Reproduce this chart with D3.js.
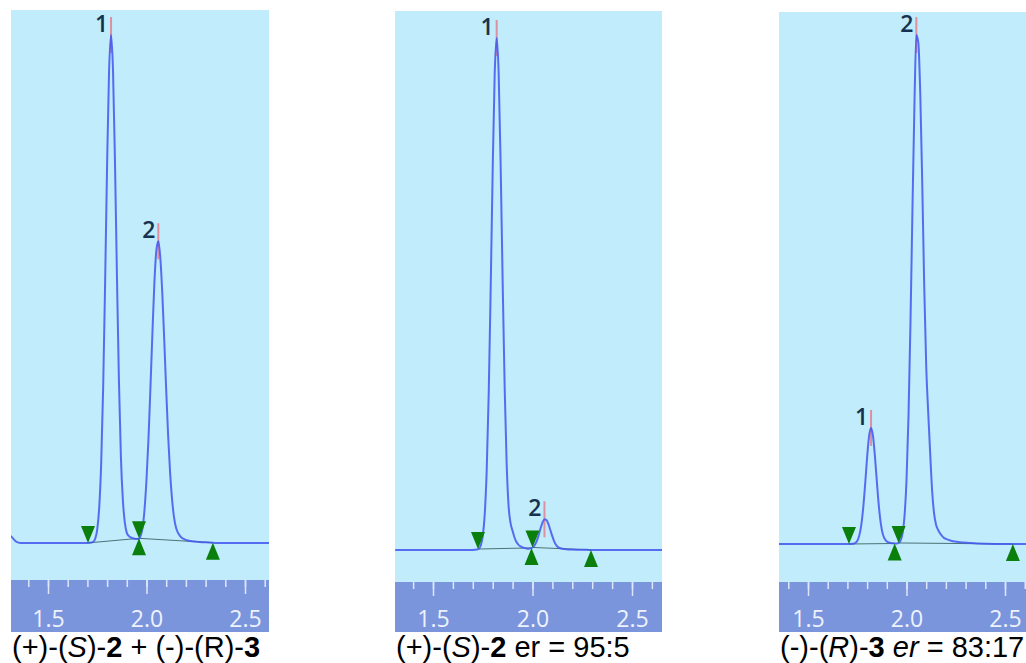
<!DOCTYPE html>
<html>
<head>
<meta charset="utf-8">
<script src="https://cdn.jsdelivr.net/npm/d3@7"></script>
<style>
  html, body { margin: 0; padding: 0; background: #ffffff; }
  svg { display: block; }
</style>
</head>
<body>
<div id="chart"></div>
<script>
// Retention time grid (min), shared by the three traces
const time = [1.31, 1.32, 1.34, 1.36, 1.40, 1.50, 1.60, 1.66,
  1.70, 1.71, 1.72, 1.73, 1.74, 1.75, 1.76, 1.77, 1.78, 1.79,
  1.80, 1.81, 1.82, 1.83, 1.84, 1.85, 1.86, 1.87, 1.88, 1.89,
  1.90, 1.91, 1.92, 1.93, 1.94, 1.95, 1.96, 1.97, 1.98, 1.99,
  2.00, 2.01, 2.02, 2.03, 2.04, 2.05, 2.06, 2.07, 2.08, 2.09,
  2.10, 2.11, 2.12, 2.13, 2.14, 2.15, 2.16, 2.17, 2.18, 2.19,
  2.20, 2.23, 2.27, 2.32, 2.36, 2.40, 2.50, 2.60, 2.66];

// Detector signal, % of the tallest peak in each run
const signalMix = [1.4, 1.0, 0.2, 0, 0, 0, 0, 0,
  0, 0.05, 0.1, 0.25, 0.9, 2.7, 7.0, 15.7, 30.6, 51.4,
  74.4, 92.9, 100, 93, 75, 52.5, 32, 17, 8.5, 4.0,
  2.0, 1.4, 1.1, 0.95, 0.85, 0.8, 0.8, 1.4, 3.0, 6.6,
  12.5, 20.5, 30.6, 41.3, 51.2, 57.6, 59.4, 56.2, 49.3, 40.0,
  30.1, 21.0, 13.7, 8.5, 5.0, 3.0, 2.0, 1.4, 1.0, 0.8,
  0.6, 0.35, 0.2, 0.1, 0, 0, 0, 0, 0];

const signalS = [0, 0, 0, 0, 0, 0, 0, 0,
  0, 0.05, 0.1, 0.25, 0.9, 2.7, 7.0, 15.7, 30.6, 51.4,
  74.4, 92.9, 100, 93, 75, 52.5, 32, 17, 8.5, 5.2,
  3.7, 2.4, 1.5, 1.0, 0.7, 0.5, 0.4, 0.3, 0.25, 0.32,
  0.5, 0.9, 1.65, 2.75, 4.15, 5.35, 6.0, 5.85, 5.05, 3.85,
  2.65, 1.6, 0.9, 0.5, 0.35, 0.25, 0.2, 0.15, 0.12, 0.1,
  0.08, 0.05, 0.03, 0, 0, 0, 0, 0, 0];

const signalR = [0, 0, 0, 0, 0, 0, 0, 0,
  0, 0, 0.02, 0.06, 0.2, 0.6, 1.6, 3.6, 7.0, 11.7,
  17.0, 21.2, 22.8, 21.2, 17.1, 12.0, 7.3, 3.9, 1.9, 1.0,
  0.5, 0.3, 0.2, 0.15, 0.1, 0.1, 0.2, 0.7, 2.1, 5.5,
  12.5, 24.9, 43.1, 65.2, 85.7, 100, 98.5, 88.3, 70.7, 50.6,
  35, 26, 18, 10.5, 6.0, 3.8, 2.8, 2.1, 1.6, 1.2,
  1.0, 0.6, 0.35, 0.2, 0.1, 0.05, 0, 0, 0];

// Peak apex times and integration start / end times (min)
const apexMix = [1.82, 2.06];
const startMix = [1.703, 1.962];
const endMix = [1.962, 2.337];

const apexS = [1.82, 2.06];
const startS = [1.726, 2.000];
const endS = [1.995, 2.294];

const apexR = [1.82, 2.05];
const startR = [1.708, 1.960];
const endR = [1.940, 2.540];

const peakLabels = ["1", "2"];

// Axis ticks
const tickLabels = [1.5, 2.0, 2.5];
const minorTicks = [1.3, 1.4, 1.5, 1.6, 1.7, 1.8, 1.9, 2.0, 2.1, 2.2, 2.3, 2.4, 2.5, 2.6];

// Captions: [text, style] with i = italic, b = bold
const captionMix = [["(+)-(", ""], ["S", "i"], [")-", ""], ["2", "b"], [" + (-)-(R)-", ""], ["3", "b"]];
const captionS = [["(+)-(", ""], ["S", "i"], [")-", ""], ["2", "b"], [" er = 95:5", ""]];
const captionR = [["(-)-(", ""], ["R", "i"], [")-", ""], ["3", "b"], [" ", ""], ["er", "i"], [" = 83:17", ""]];

// Colours
const plotBg = "#c0ecfc";
const bandColor = "#7b95dd";
const traceColor = "#4256ee";
const rtColor = "#ee5f72";
const markColor = "#0b7f0b";
const baselineColor = "#2f5656";
const labelColor = "#16324f";
const tickColor = "#dfe6f9";

const W = 1026, H = 663;

const panels = [
  { signal: signalMix, apex: apexMix, starts: startMix, ends: endMix, caption: captionMix,
    left: 11, right: 269, top: 10, band: 580, x15: 48, x25: 245, base: 543, peak: 35 },
  { signal: signalS, apex: apexS, starts: startS, ends: endS, caption: captionS,
    left: 395, right: 662, top: 11, band: 582, x15: 433, x25: 632, base: 550, peak: 38 },
  { signal: signalR, apex: apexR, starts: startR, ends: endR, caption: captionR,
    left: 779, right: 1026, top: 12, band: 582, x15: 808, x25: 1005, base: 544, peak: 35 }
];
const bandBottom = 632;

const svg = d3.select("#chart")
  .append("svg")
  .attr("width", W)
  .attr("height", H);

svg.append("rect").attr("width", W).attr("height", H).attr("fill", "#ffffff");

// linear lookup of the trace at time t
function valueAt(signal, t) {
  const i = Math.max(1, Math.min(time.length - 1, d3.bisectLeft(time, t)));
  const t0 = time[i - 1], t1 = time[i];
  const f = (t - t0) / (t1 - t0);
  return signal[i - 1] + f * (signal[i] - signal[i - 1]);
}

panels.forEach((p, i) => {
  const x = d3.scaleLinear().domain([1.5, 2.5]).range([p.x15, p.x25]);
  const y = d3.scaleLinear().domain([0, 100]).range([p.base, p.peak]);
  const g = svg.append("g");

  // plot background
  g.append("rect")
    .attr("x", p.left).attr("y", p.top)
    .attr("width", p.right - p.left).attr("height", p.band - p.top)
    .attr("fill", plotBg);

  // axis band
  g.append("rect")
    .attr("x", p.left).attr("y", p.band)
    .attr("width", p.right - p.left).attr("height", bandBottom - p.band)
    .attr("fill", bandColor);

  const clipId = "clip" + i;
  svg.append("clipPath").attr("id", clipId)
    .append("rect")
    .attr("x", p.left).attr("y", p.top)
    .attr("width", p.right - p.left).attr("height", p.band - p.top);

  const plot = g.append("g").attr("clip-path", `url(#${clipId})`);

  // retention time markers (under the trace)
  p.apex.forEach(t => {
    const v = y(valueAt(p.signal, t));
    plot.append("line")
      .attr("x1", x(t)).attr("x2", x(t))
      .attr("y1", v - 18).attr("y2", v + 18)
      .attr("stroke", rtColor)
      .attr("stroke-width", 2)
      .attr("opacity", 0.65);
  });

  // integration baselines
  p.starts.forEach((t0, k) => {
    const t1 = p.ends[k];
    plot.append("line")
      .attr("x1", x(t0)).attr("y1", y(valueAt(p.signal, t0)))
      .attr("x2", x(t1)).attr("y2", y(valueAt(p.signal, t1)))
      .attr("stroke", baselineColor)
      .attr("stroke-width", 1)
      .attr("opacity", 0.8);
  });

  // chromatogram trace
  const line = d3.line()
    .x(d => x(d[0]))
    .y(d => y(d[1]))
    .curve(d3.curveMonotoneX);

  plot.append("path")
    .datum(time.map((t, k) => [t, p.signal[k]]))
    .attr("fill", "none")
    .attr("stroke", traceColor)
    .attr("stroke-width", 2)
    .attr("stroke-linejoin", "round")
    .attr("opacity", 0.85)
    .attr("d", line);

  // peak numbers
  p.apex.forEach((t, k) => {
    plot.append("text")
      .attr("x", x(t) - 3)
      .attr("y", y(valueAt(p.signal, t)) - 3)
      .attr("text-anchor", "end")
      .attr("fill", labelColor)
      .attr("font-size", "23px")
      .attr("font-weight", 600)
      .attr("font-family", "'Open Sans', sans-serif")
      .text(peakLabels[k]);
  });

  // start (down) and end (up) triangles
  p.starts.forEach(t => {
    const cx = x(t), cy = y(valueAt(p.signal, t));
    plot.append("path")
      .attr("d", `M${cx - 7},${cy - 17}L${cx + 7},${cy - 17}L${cx},${cy}Z`)
      .attr("fill", markColor);
  });
  p.ends.forEach(t => {
    const cx = x(t), cy = y(valueAt(p.signal, t));
    plot.append("path")
      .attr("d", `M${cx - 7},${cy + 17}L${cx + 7},${cy + 17}L${cx},${cy}Z`)
      .attr("fill", markColor);
  });

  // time axis
  const inside = t => x(t) > p.left + 1 && x(t) < p.right - 1;
  const minorG = g.append("g")
    .attr("transform", `translate(0,${p.band})`)
    .call(d3.axisBottom(x).tickValues(minorTicks.filter(inside)).tickSize(7).tickFormat(""));
  const majorG = g.append("g")
    .attr("transform", `translate(0,${p.band})`)
    .call(d3.axisBottom(x).tickValues(tickLabels.filter(inside)).tickSize(14).tickFormat(d3.format(".1f")));

  [minorG, majorG].forEach(a => {
    a.select(".domain").remove();
    a.selectAll(".tick line").attr("stroke", tickColor).attr("stroke-width", 1.5);
  });
  majorG.selectAll(".tick text")
    .attr("y", 627 - p.band)
    .attr("dy", 0)
    .attr("fill", "#eef2fd")
    .attr("font-size", "23px")
    .attr("font-family", "'Open Sans', sans-serif");

  // caption
  const cap = svg.append("text")
    .attr("x", p.left + 1)
    .attr("y", 657)
    .attr("fill", "#000000")
    .attr("font-size", "29px")
    .attr("font-family", "'Liberation Sans', Arial, sans-serif")
    .style("white-space", "pre");
  p.caption.forEach(([txt, st]) => {
    cap.append("tspan")
      .attr("font-style", st === "i" ? "italic" : "normal")
      .attr("font-weight", st === "b" ? "bold" : "normal")
      .text(txt);
  });
});
</script>
</body>
</html>
